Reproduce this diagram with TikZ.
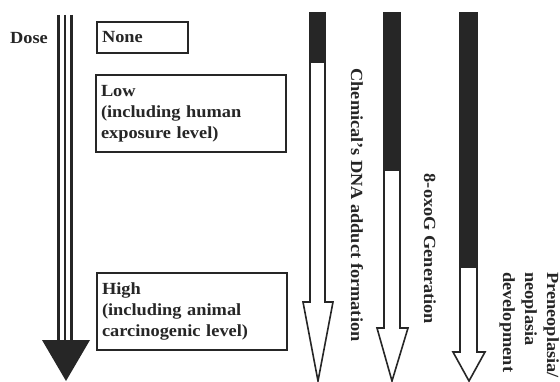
\documentclass[tikz,border=0pt]{standalone}
\usepackage{fontspec}
\setmainfont{Liberation Serif}[FakeStretch=1.08]
\begin{document}
\begin{tikzpicture}[x=1pt,y=-1pt,
  txt/.style={font=\fontsize{17}{21}\selectfont\bfseries, text=black!85},
  dosebox/.style={txt, draw=black!85, line width=2pt, anchor=north west, inner xsep=5pt, inner ysep=0pt, outer sep=0pt, align=left},
  outline/.style={draw=black!85, line width=1.6pt, fill=white, line join=miter},
  darkfill/.style={fill=black!85},
  doseline/.style={draw=black!85, line width=2.2pt},
  vlabel/.style={txt, rotate=-90, inner sep=0pt}]
\useasboundingbox (0,0) rectangle (560,382);
\clip (0,0) rectangle (560,382);
\fill[white] (0,0) rectangle (560,382);

% Dose arrow
\node[txt] (dose) at (29,38) {Dose};
\draw[doseline] (58.5,15) -- (58.5,341);
\draw[doseline] (65,15) -- (65,341);
\draw[doseline] (71.5,15) -- (71.5,341);
\fill[black!85] (42,340) -- (90,340) -- (66,381) -- cycle;

% Boxes
\node[dosebox, text width=81pt, minimum height=31pt] (none) at (97,22) {None};
\node[dosebox, text width=180pt, minimum height=77pt] (low) at (96,75) {Low\\(including human\\exposure level)};
\node[dosebox, text width=180pt, minimum height=77pt] (high) at (97,273) {High\\(including animal\\carcinogenic level)};

% Arrow 1: Chemical's DNA adduct formation
\draw[outline] (310,13) -- (325,13) -- (325,302) -- (333,302) -- (318,381) -- (303,302) -- (310,302) -- cycle;
\fill[darkfill] (310,13) rectangle (325,62);
\draw[draw=black!85, line width=1.6pt] (310,13) rectangle (325,62);
\node[vlabel] (l1) at (357,205) {Chemical’s DNA adduct formation};

% Arrow 2: 8-oxoG Generation
\draw[outline] (384,13) -- (400,13) -- (400,328) -- (408,328) -- (392,381) -- (377,328) -- (384,328) -- cycle;
\fill[darkfill] (384,13) rectangle (400,170);
\draw[draw=black!85, line width=1.6pt] (384,13) rectangle (400,170);
\node[vlabel] (l2) at (430,249) {8-oxoG Generation};

% Arrow 3: Preneoplasia
\draw[outline] (460,13) -- (477,13) -- (477,352) -- (485,352) -- (469,381) -- (453,352) -- (460,352) -- cycle;
\fill[darkfill] (460,13) rectangle (477,267);
\draw[draw=black!85, line width=1.6pt] (460,13) rectangle (477,267);
\node[vlabel, anchor=north west, align=left, font=\fontsize{17}{22}\selectfont\bfseries] (l3) at (559,272) {Preneoplasia/\\neoplasia\\development};
\end{tikzpicture}
\end{document}
